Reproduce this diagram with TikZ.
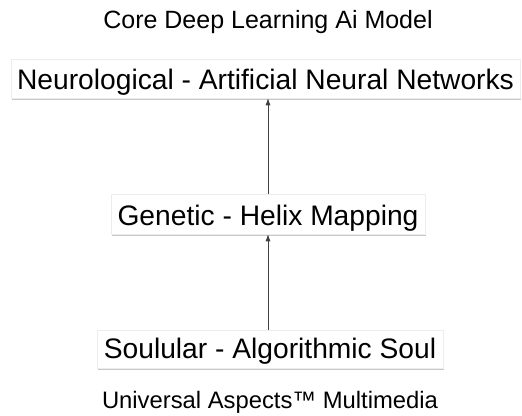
\documentclass[tikz,border=0pt]{standalone}
\usepackage{fontspec}
\setmainfont{Liberation Sans}
\usetikzlibrary{shadows,arrows.meta}
\begin{document}
\begin{tikzpicture}[x=1pt,y=-1pt,
  boxnode/.style={fill=white,draw=black!7,line width=0.5pt,inner sep=0pt,anchor=base,
    font=\fontsize{28.2}{32}\selectfont,
    drop shadow={shadow xshift=0.5pt,shadow yshift=-1.5pt,fill=black,opacity=0.22}},
  lbl/.style={inner sep=0pt,anchor=base},
  conn/.style={draw=black!75,-{Latex[length=7pt,width=5pt]},line width=0.7pt}]
\useasboundingbox (0,0) rectangle (522,415);
\node[lbl,font=\fontsize{25}{30}\selectfont] (title) at (268,28) {Core Deep Learning Ai Model};
\node[boxnode,minimum width=509pt,text height=30pt,text depth=9pt] (neuro) at (265.5,89) {Neurological - Artificial Neural Networks};
\node[boxnode,minimum width=314pt,text height=31pt,text depth=9pt] (gen) at (268,225) {Genetic - Helix Mapping};
\node[boxnode,minimum width=346pt,text height=28pt,text depth=10pt] (soul) at (270,358) {Soulular - Algorithmic Soul};
\node[lbl,font=\fontsize{23.8}{28}\selectfont] (foot) at (270,408) {Universal Aspects™ Multimedia};
\draw[conn] (gen.north -| 268,0) -- (neuro.south -| 268,0);
\draw[conn] (soul.north -| 268,0) -- (gen.south -| 268,0);
\end{tikzpicture}
\end{document}
